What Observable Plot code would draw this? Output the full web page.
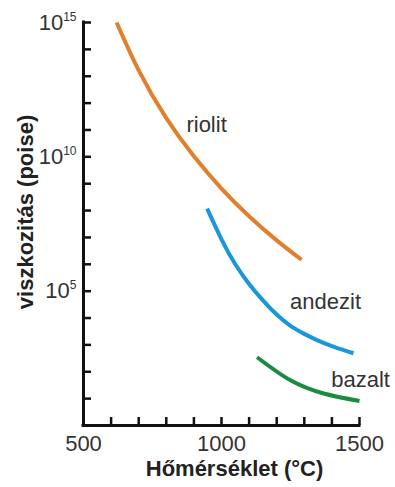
<!DOCTYPE html>
<html>
<head>
<meta charset="utf-8">
<script src="https://cdn.jsdelivr.net/npm/d3@7"></script>
<script src="https://cdn.jsdelivr.net/npm/@observablehq/plot@0.6"></script>
<style>
  html, body { margin: 0; padding: 0; background: #fff; }
  #chart svg { display: block; }
</style>
</head>
<body>
<div id="chart"></div>
<script>
// ---- data ----
const seriesNames = ["riolit", "andezit", "bazalt"];
const seriesColors = ["#e07f2c", "#1a97d8", "#1b8b3d"];

// temperature (°C) and log10 viscosity (poise)
const riolitT = [620, 700, 800, 900, 1000, 1100, 1200, 1290];
const riolitLogEta = [15.0, 13.22, 11.44, 10.02, 8.82, 7.79, 6.89, 6.17];

const andezitT = [948, 1000, 1050, 1100, 1150, 1200, 1250, 1300, 1350, 1410, 1478];
const andezitLogEta = [8.07, 6.93, 6.0, 5.27, 4.66, 4.13, 3.71, 3.41, 3.16, 2.92, 2.69];

const bazaltT = [1129, 1250, 1370, 1500];
const bazaltLogEta = [2.54, 1.68, 1.19, 0.91];

// curve labels: name, temperature, log10 viscosity
const labelNames = ["riolit", "andezit", "bazalt"];
const labelT = [946, 1377, 1504];
const labelLogEta = [11.2, 4.6, 1.68];

// ticks
const xTickLabels = [500, 1000, 1500];
const xTickMarks = [600, 700, 800, 900, 1000, 1100, 1200, 1300, 1400, 1500];
const yTickLabelExps = [15, 10, 5];
const yTickMarkExps = [15, 14, 13, 12, 11, 10, 9, 8, 7, 6, 5, 4, 3, 2, 1];

const xTitle = "Hőmérséklet (°C)";
const yTitle = "viszkozitás (poise)";

// ---- build table ----
const rows = [];
[[riolitT, riolitLogEta], [andezitT, andezitLogEta], [bazaltT, bazaltLogEta]].forEach(([T, L], i) => {
  T.forEach((t, j) => rows.push({series: seriesNames[i], T: t, eta: Math.pow(10, L[j])}));
});
const labels = labelNames.map((n, i) => ({name: n, T: labelT[i], eta: Math.pow(10, labelLogEta[i])}));
const yTickLabels = yTickLabelExps.map(e => Math.pow(10, e));
const yTickMarks = yTickMarkExps.map(e => Math.pow(10, e));

const font = "Liberation Sans, Arial, Helvetica, sans-serif";

const chart = Plot.plot({
  width: 395,
  height: 487,
  marginLeft: 83,
  marginRight: 36,
  marginTop: 22,
  marginBottom: 62,
  style: {fontFamily: font, fontSize: "22px", background: "#fff", color: "#222"},
  x: {domain: [500, 1500]},
  y: {type: "log", domain: [1, 1e15]},
  color: {domain: seriesNames, range: seriesColors},
  marks: [
    // inward tick marks
    Plot.axisX(xTickMarks, {tickSize: 8, dy: -8, tickFormat: () => "", label: null, strokeWidth: 2.5, stroke: "#111"}),
    Plot.axisY(yTickMarks, {tickSize: 8, dx: 8, tickFormat: () => "", label: null, strokeWidth: 2.5, stroke: "#111"}),
    // tick labels
    Plot.axisX(xTickLabels, {tickSize: 0, tickPadding: 10, label: null, fontSize: 22, color: "#333", tickFormat: d => String(d)}),
    Plot.axisY(yTickLabels, {tickSize: 0, tickPadding: 7, label: null, fontSize: 22, color: "#333",
      tickFormat: d => "10|" + Math.round(Math.log10(d))}),
    // axis lines
    Plot.ruleX([500], {stroke: "#111", strokeWidth: 3, strokeLinecap: "square"}),
    Plot.ruleY([1], {stroke: "#111", strokeWidth: 3, strokeLinecap: "square"}),
    // curves
    Plot.line(rows, {x: "T", y: "eta", z: "series", stroke: "series", strokeWidth: 4, curve: "natural", strokeLinecap: "butt"}),
    // curve labels
    Plot.text(labels, {x: "T", y: "eta", text: "name", fontSize: 22, fill: "#333", textAnchor: "middle", lineAnchor: "middle"}),
    // axis titles
    Plot.text([yTitle], {frameAnchor: "left", text: d => d, rotate: -90, dx: -58, dy: -12, fontSize: 22, fontWeight: "bold", fill: "#222", textAnchor: "middle", lineAnchor: "middle"}),
    Plot.text([xTitle], {frameAnchor: "bottom", text: d => d, dx: 13, dy: 43, fontSize: 22, fontWeight: "bold", fill: "#222", textAnchor: "middle", lineAnchor: "middle"})
  ]
});

// superscripts for the y tick labels
const svgNS = "http://www.w3.org/2000/svg";
chart.querySelectorAll("text").forEach(t => {
  const m = /^10\|(\d+)$/.exec(t.textContent);
  if (m) {
    t.textContent = "10";
    const ts = document.createElementNS(svgNS, "tspan");
    ts.setAttribute("font-size", "12");
    ts.setAttribute("dy", "-9");
    ts.textContent = m[1];
    t.appendChild(ts);
  }
});

document.getElementById("chart").appendChild(chart);
</script>
</body>
</html>
